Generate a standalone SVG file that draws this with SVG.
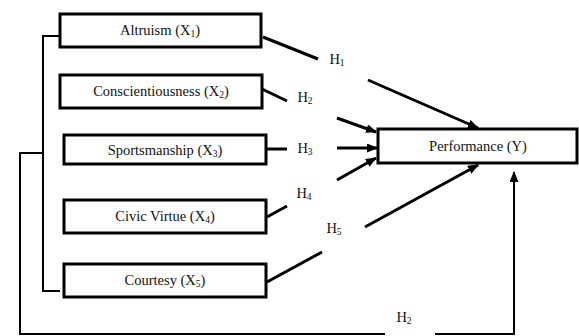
<svg xmlns="http://www.w3.org/2000/svg" width="579" height="336" viewBox="0 0 579 336">
<defs>
<marker id="ah" markerWidth="11" markerHeight="9" refX="10" refY="4.5" orient="auto" markerUnits="userSpaceOnUse">
<path d="M0,0 L11,4.5 L0,9 Z" fill="#000"/>
</marker>
<style>
.box{fill:#fff;stroke:#000;stroke-width:3}
.t{font-family:"Liberation Serif","Times New Roman",serif;font-size:14.5px;fill:#111;text-anchor:middle}
.ln{fill:none;stroke:#000;stroke-width:3}
.th{fill:none;stroke:#000;stroke-width:2}
.sub{font-size:9.5px}
</style>
</defs>
<rect width="579" height="336" fill="#fff"/>
<g id="connectors">
<polyline class="th" points="60,36 43,36 43,291 60,291"/>
<polyline class="th" points="43,153 20,153 20,334 385,334"/>
<polyline class="th" points="435,334 514,334 514,172" marker-end="url(#ah)"/>
<line class="ln" x1="263" y1="37" x2="318" y2="59"/>
<line class="ln" x1="368" y1="80" x2="478" y2="128" marker-end="url(#ah)"/>
<line class="ln" x1="262" y1="89" x2="287" y2="101"/>
<line class="ln" x1="337" y1="118" x2="376" y2="132" marker-end="url(#ah)"/>
<line class="ln" x1="267" y1="149" x2="287" y2="149"/>
<line class="ln" x1="337" y1="148" x2="377" y2="148" marker-end="url(#ah)"/>
<line class="ln" x1="267" y1="217" x2="287" y2="206"/>
<line class="ln" x1="337" y1="180" x2="376" y2="158" marker-end="url(#ah)"/>
<line class="ln" x1="267" y1="282" x2="322" y2="252"/>
<line class="ln" x1="365" y1="227" x2="478" y2="165" marker-end="url(#ah)"/>
<text class="t" x="337" y="64">H<tspan class="sub" dy="2">1</tspan></text>
<text class="t" x="305" y="102">H<tspan class="sub" dy="2">2</tspan></text>
<text class="t" x="305" y="153">H<tspan class="sub" dy="2">3</tspan></text>
<text class="t" x="304" y="198">H<tspan class="sub" dy="2">4</tspan></text>
<text class="t" x="334" y="233">H<tspan class="sub" dy="2">5</tspan></text>
<text class="t" x="404" y="322">H<tspan class="sub" dy="2">2</tspan></text>
</g>
<g id="x1"><rect class="box" x="60" y="14" width="201" height="33"/><text class="t" x="160" y="35">Altruism (X<tspan class="sub" dy="2">1</tspan><tspan dy="-2">)</tspan></text></g>
<g id="x2"><rect class="box" x="60" y="75" width="202" height="33"/><text class="t" x="161" y="96">Conscientiousness (X<tspan class="sub" dy="2">2</tspan><tspan dy="-2">)</tspan></text></g>
<g id="x3"><rect class="box" x="64" y="135" width="202" height="29"/><text class="t" x="165" y="155">Sportsmanship (X<tspan class="sub" dy="2">3</tspan><tspan dy="-2">)</tspan></text></g>
<g id="x4"><rect class="box" x="64" y="200" width="202" height="33"/><text class="t" x="165" y="221">Civic Virtue (X<tspan class="sub" dy="2">4</tspan><tspan dy="-2">)</tspan></text></g>
<g id="x5"><rect class="box" x="64" y="264" width="202" height="33"/><text class="t" x="165" y="285">Courtesy (X<tspan class="sub" dy="2">5</tspan><tspan dy="-2">)</tspan></text></g>
<g id="y"><rect class="box" x="378" y="129" width="199" height="34"/><text class="t" x="478" y="151">Performance (Y)</text></g>
</svg>
